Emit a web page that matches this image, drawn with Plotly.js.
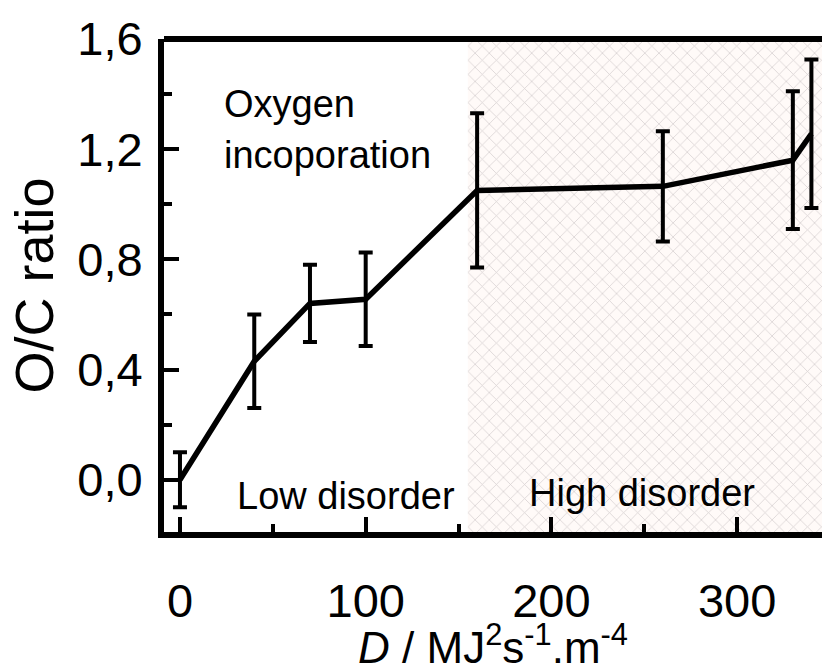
<!DOCTYPE html>
<html>
<head>
<meta charset="utf-8">
<script src="https://cdn.plot.ly/plotly-3.0.1.min.js"></script>
<style>
  html, body { margin: 0; padding: 0; background: #fff; overflow: hidden; }
  #chart { width: 822px; height: 672px; }
</style>
</head>
<body>
<div id="chart"></div>
<script>
// Data
const doseD = [0, 40, 70, 100, 160, 260, 330, 340];          // D / MJ^2 s^-1 m^-4
const ocRatio = [0.0, 0.43, 0.64, 0.655, 1.05, 1.065, 1.16, 1.256];
const ocError = [0.10, 0.17, 0.14, 0.17, 0.28, 0.20, 0.25, 0.27];

const xTickVals = [0, 100, 200, 300];
const yTickVals = [0.0, 0.4, 0.8, 1.2, 1.6];

const highDisorderStart = 155;
const xRange = [-8.6, 345.7];
const yRange = [-0.19, 1.6];

const FONT = '"Liberation Sans", Arial, Helvetica, sans-serif';

const hatch = {
  x: [highDisorderStart, xRange[1], xRange[1], highDisorderStart, highDisorderStart],
  y: [yRange[0], yRange[0], yRange[1], yRange[1], yRange[0]],
  type: 'scatter',
  mode: 'lines',
  fill: 'toself',
  line: { width: 0, color: 'rgba(0,0,0,0)' },
  fillcolor: '#fffafa',
  fillpattern: { shape: 'x', size: 10, solidity: 0.15, fgcolor: '#d7d1d1', bgcolor: '#fffaf8', fillmode: 'replace' },
  hoverinfo: 'skip',
  showlegend: false
};

const series = {
  x: doseD,
  y: ocRatio,
  type: 'scatter',
  mode: 'lines',
  line: { color: '#000', width: 5.5 },
  error_y: { type: 'data', array: ocError, visible: true, color: '#000', thickness: 4, width: 7 },
  showlegend: false
};

const layout = {
  width: 822,
  height: 672,
  margin: { l: 164, r: 0, t: 39, b: 140, pad: 0 },
  paper_bgcolor: '#fff',
  plot_bgcolor: '#fff',
  separators: ', ',
  font: { family: FONT, color: '#000', size: 46 },
  showlegend: false,
  xaxis: {
    range: xRange,
    tickvals: xTickVals,
    ticktext: xTickVals.map(String),
    ticks: 'inside',
    ticklen: 15,
    tickwidth: 4,
    tickcolor: '#000',
    minor: { ticks: 'inside', dtick: 50, tick0: 0, ticklen: 8, tickwidth: 4, tickcolor: '#000' },
    showline: true,
    linewidth: 6,
    linecolor: '#000',
    showgrid: false,
    zeroline: false,
    tickfont: { size: 47, family: FONT },
    ticklabelstandoff: 23,
    title: { text: '<i>D</i> / MJ<sup>2</sup>s<sup>-1</sup>.m<sup>-4</sup>', font: { size: 44, family: FONT }, standoff: 19 }
  },
  yaxis: {
    range: yRange,
    tickvals: yTickVals,
    tickformat: '.1f',
    ticks: 'inside',
    ticklen: 15,
    tickwidth: 4,
    tickcolor: '#000',
    minor: { ticks: 'inside', dtick: 0.2, tick0: 0, ticklen: 8, tickwidth: 4, tickcolor: '#000' },
    showline: true,
    linewidth: 6,
    linecolor: '#000',
    showgrid: false,
    zeroline: false,
    tickfont: { size: 47, family: FONT },
    ticklabelstandoff: 6,
    title: { text: 'O/C ratio', font: { size: 54, family: FONT }, standoff: 8 }
  },
  shapes: [
    { type: 'line', xref: 'paper', yref: 'paper', x0: 0, x1: 1, y0: 1, y1: 1, line: { color: '#000', width: 6 } }
  ],
  annotations: [
    { text: 'Oxygen', x: 22.6, y: 1.365, xref: 'x', yref: 'y', xanchor: 'left', yanchor: 'middle', showarrow: false, font: { size: 38, family: FONT } },
    { text: 'incoporation', x: 22.6, y: 1.18, xref: 'x', yref: 'y', xanchor: 'left', yanchor: 'middle', showarrow: false, font: { size: 38, family: FONT } },
    { text: 'Low disorder', x: 89.5, y: -0.058, xref: 'x', yref: 'y', xanchor: 'center', yanchor: 'middle', showarrow: false, font: { size: 38, family: FONT } },
    { text: 'High disorder', x: 249, y: -0.047, xref: 'x', yref: 'y', xanchor: 'center', yanchor: 'middle', showarrow: false, font: { size: 38, family: FONT } }
  ]
};

Plotly.newPlot('chart', [hatch, series], layout, { staticPlot: true, displayModeBar: false });
</script>
</body>
</html>
